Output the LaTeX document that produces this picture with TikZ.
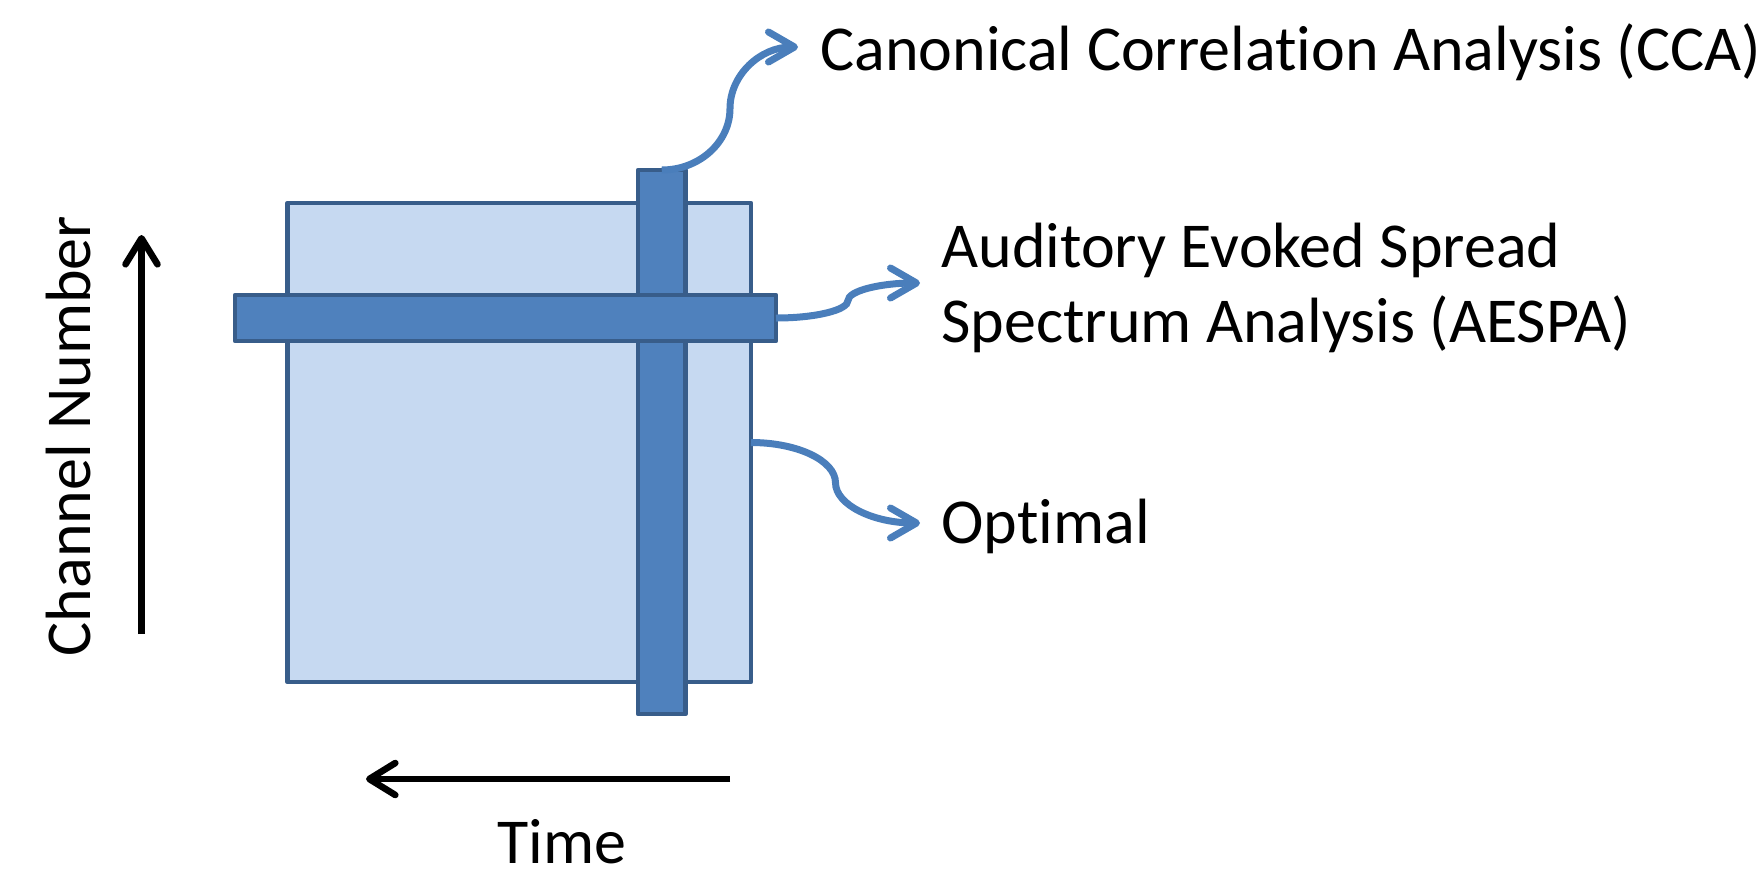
\documentclass[tikz,border=0pt]{standalone}
\usepackage{fontspec}
\setmainfont{Carlito}[Ligatures=NoCommon]
\usetikzlibrary{arrows.meta}

\definecolor{datafill}{HTML}{C6D9F1}
\definecolor{barfill}{HTML}{4F81BD}
\definecolor{barline}{HTML}{385D8A}
\definecolor{connline}{HTML}{4A7EBB}

\begin{document}
\begin{tikzpicture}[
		x=0.5pt, y=-0.5pt,
		block/.style = {draw=barline, line width=2.2pt, line join=round, outer sep=0pt, inner sep=0pt},
		txt/.style = {font=\fontsize{32pt}{37.5pt}\selectfont, inner sep=0pt},
		conn/.style = {connline, line width=3.5pt, -{Straight Barb[length=13pt, width=15pt, round]}},
		axis/.style = {black, line width=3.3pt, -{Straight Barb[length=13pt, width=16pt, round]}},
	]
	\path[use as bounding box] (0,0) rectangle (1762,875);
	\node[block, fill=datafill, minimum width=231.75pt, minimum height=239.5pt] (data) at (519.25,442.5) {};
	\node[block, fill=barfill, minimum width=23.75pt, minimum height=272pt] (vbar) at (661.75,442) {};
	\node[block, fill=barfill, minimum width=270.5pt, minimum height=23pt] (hbar) at (505.5,318) {};

	\node[txt, anchor=base west] (cca) at (820,70) {Canonical Correlation Analysis (CCA)};
	\node[txt, anchor=base west] (aespa1) at (941,267) {Auditory Evoked Spread};
	\node[txt, anchor=base west] (aespa2) at (941,342) {Spectrum Analysis (AESPA)};
	\node[txt, anchor=base west] (opt) at (941,543) {Optimal};
	\node[txt, anchor=base, rotate=90] (chan) at (90,436) {Channel Number};
	\node[txt, anchor=base, text depth=0pt] (time) at (562,863) {Time};

	\coordinate (ccamid) at (730,108.5);
	\coordinate (ccatip) at (798,47);
	\coordinate (aespamid) at (848,300.5);
	\coordinate (aespatip) at (920,283);
	\coordinate (optmid) at (835.5,482.75);
	\coordinate (opttip) at (920,523);

	\draw[conn] (vbar.north) .. controls (699.3,170) and (730,142.3) .. (ccamid)
		.. controls (730,74.7) and (760.6,47) .. (ccatip);
	\draw[conn] (hbar.east) .. controls (815.6,318) and (848,310.1) .. (aespamid)
		.. controls (848,290.9) and (880.4,283) .. (aespatip);
	\draw[conn] (data.east) .. controls (797.5,442.5) and (835.5,460.6) .. (optmid)
		.. controls (835.5,504.9) and (873.5,523) .. (opttip);

	\draw[axis] (141.5,634) -- (141.5,235);
	\draw[axis] (730,779) -- (366,779);
\end{tikzpicture}
\end{document}
